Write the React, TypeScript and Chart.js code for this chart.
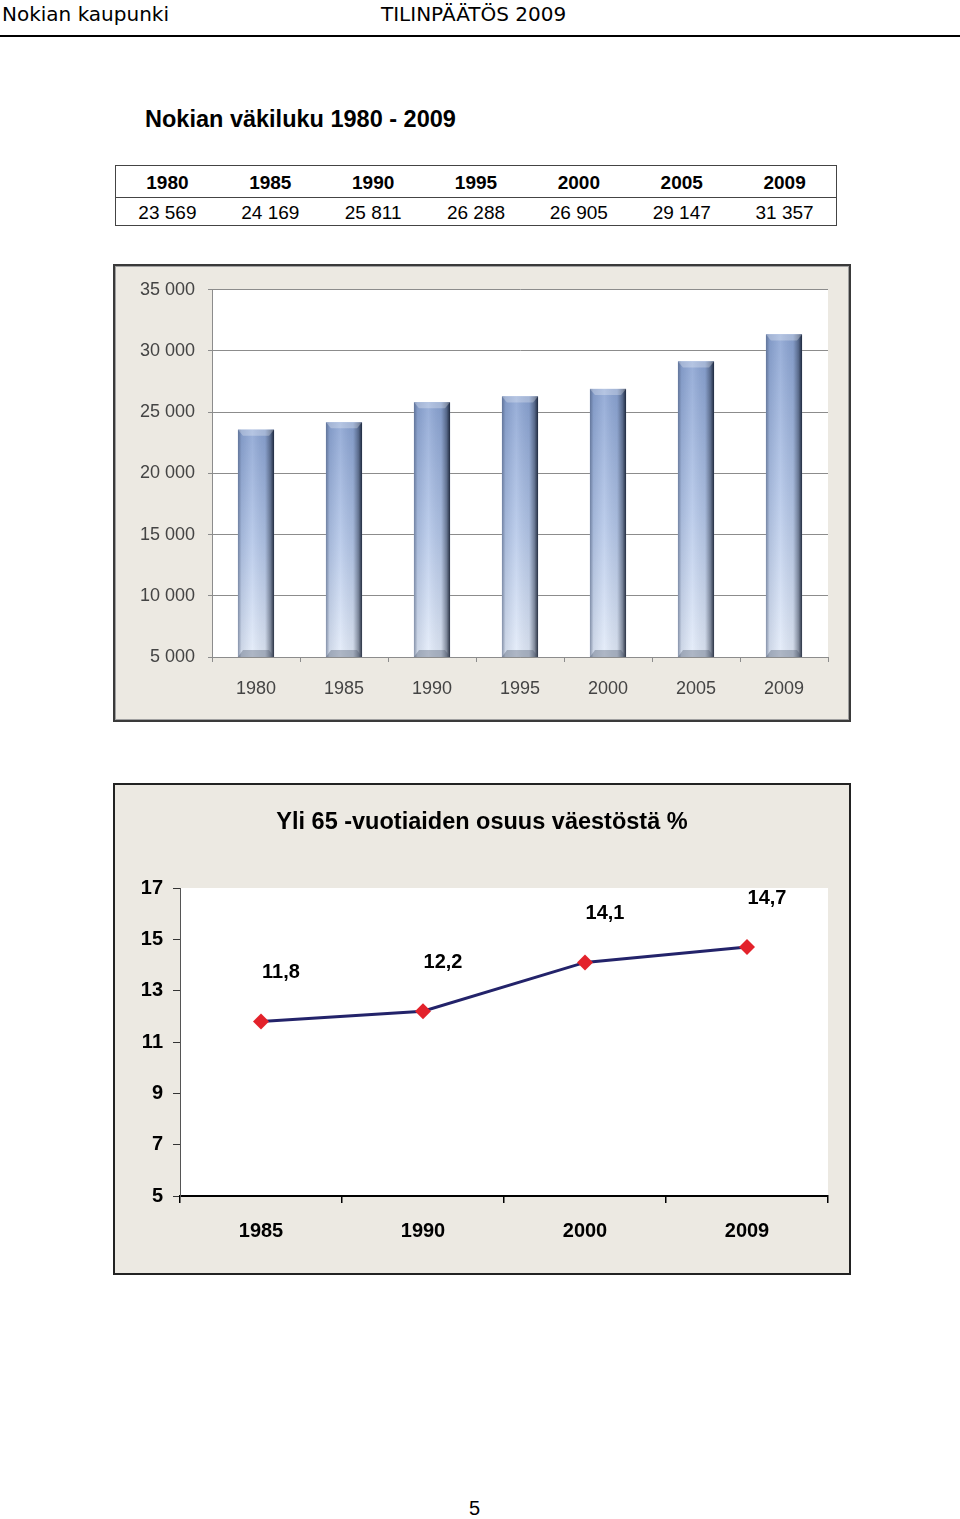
import React, { useEffect, useRef } from "react";
import { Chart, registerables } from "chart.js";

Chart.register(...registerables);

const tableYears = ["1980", "1985", "1990", "1995", "2000", "2005", "2009"];
const tableValues = ["23 569", "24 169", "25 811", "26 288", "26 905", "29 147", "31 357"];

const barYears = ["1980", "1985", "1990", "1995", "2000", "2005", "2009"];
const population = [23569, 24169, 25811, 26288, 26905, 29147, 31357];

const lineYears = ["1985", "1990", "2000", "2009"];
const elderlyShare = [11.8, 12.2, 14.1, 14.7];

const SANS = '"Liberation Sans", Arial, sans-serif';

const plotWhite = {
  id: "plotWhite",
  beforeDraw(chart: any) {
    const a = chart.chartArea;
    if (!a) return;
    const ctx = chart.ctx;
    ctx.save();
    ctx.fillStyle = "#ffffff";
    ctx.fillRect(a.left, a.top, a.right - a.left, a.bottom - a.top);
    ctx.restore();
  },
};

const barShade = {
  id: "barShade",
  afterDatasetsDraw(chart: any) {
    const ctx = chart.ctx;
    const meta = chart.getDatasetMeta(0);
    const area = chart.chartArea;
    ctx.save();
    meta.data.forEach((bar: any) => {
      const p = bar.getProps(["x", "y", "base", "width"], true);
      const x = p.x;
      const width = p.width;
      const y = Math.max(p.y, area.top);
      const base = Math.min(p.base, area.bottom);
      const l = x - width / 2;
      const r = x + width / 2;
      const h = base - y;
      const v = ctx.createLinearGradient(0, y, 0, base);
      v.addColorStop(0, "#8aa3d2");
      v.addColorStop(0.5, "#b3c6e8");
      v.addColorStop(1, "#e4ecf9");
      ctx.fillStyle = v;
      ctx.fillRect(l, y, width, h);
      const g = ctx.createLinearGradient(l, 0, r, 0);
      g.addColorStop(0, "rgba(60,75,105,0.55)");
      g.addColorStop(0.1, "rgba(60,75,105,0.12)");
      g.addColorStop(0.4, "rgba(255,255,255,0.12)");
      g.addColorStop(0.75, "rgba(30,40,60,0.08)");
      g.addColorStop(0.9, "rgba(20,30,50,0.45)");
      g.addColorStop(1, "rgba(10,18,35,0.85)");
      ctx.fillStyle = g;
      ctx.fillRect(l, y, width, h);
      // top bevel
      ctx.fillStyle = "rgba(255,255,255,0.28)";
      ctx.beginPath();
      ctx.moveTo(l, y);
      ctx.lineTo(r, y);
      ctx.lineTo(r - 5, y + 6);
      ctx.lineTo(l + 5, y + 6);
      ctx.closePath();
      ctx.fill();
      // bottom bevel
      ctx.fillStyle = "rgba(70,80,100,0.35)";
      ctx.beginPath();
      ctx.moveTo(l + 5, base - 7);
      ctx.lineTo(r - 5, base - 7);
      ctx.lineTo(r, base);
      ctx.lineTo(l, base);
      ctx.closePath();
      ctx.fill();
    });
    ctx.restore();
  },
};

const lineLabels = {
  id: "lineLabels",
  afterDatasetsDraw(chart: any) {
    const ctx = chart.ctx;
    const meta = chart.getDatasetMeta(0);
    ctx.save();
    ctx.font = `bold 20px ${SANS}`;
    ctx.fillStyle = "#000";
    ctx.textAlign = "center";
    ctx.textBaseline = "middle";
    meta.data.forEach((pt: any, i: number) => {
      const txt = elderlyShare[i].toFixed(1).replace(".", ",");
      ctx.fillText(txt, pt.x + 20, pt.y - 49);
    });
    ctx.restore();
  },
};

function fmtThousands(v: number) {
  return String(v).replace(/\B(?=(\d{3})+(?!\d))/g, " ");
}

export default function App() {
  const barRef = useRef<HTMLCanvasElement | null>(null);
  const lineRef = useRef<HTMLCanvasElement | null>(null);

  useEffect(() => {
    Chart.defaults.font.family = SANS;
    const bar = new Chart(barRef.current as HTMLCanvasElement, {
      type: "bar",
      data: {
        labels: barYears,
        datasets: [
          {
            data: population,
            backgroundColor: "#a9bde3",
            categoryPercentage: 1,
            barPercentage: 0.41,
          },
        ],
      },
      options: {
        animation: false,
        responsive: false,
        maintainAspectRatio: false,
        layout: { padding: { top: 23, right: 21, left: 0, bottom: 0 } },
        plugins: { legend: { display: false }, tooltip: { enabled: false } },
        scales: {
          x: {
            grid: { offset: true, drawOnChartArea: false, drawTicks: true, tickLength: 5, color: "#8c8c8c" },
            border: { color: "#8c8c8c" },
            ticks: { color: "#444", font: { size: 18 }, padding: 16 },
            afterFit: (s: any) => {
              s.height = 63;
            },
          },
          y: {
            min: 5000,
            max: 35000,
            ticks: {
              stepSize: 5000,
              color: "#444",
              font: { size: 18 },
              padding: 13,
              callback: (v: any) => fmtThousands(Number(v)),
            },
            grid: { color: "#8c8c8c", tickLength: 4 },
            border: { color: "#8c8c8c" },
            afterFit: (s: any) => {
              s.width = 97;
            },
          },
        },
      } as any,
      plugins: [plotWhite, barShade],
    });

    const line = new Chart(lineRef.current as HTMLCanvasElement, {
      type: "line",
      data: {
        labels: lineYears,
        datasets: [
          {
            data: elderlyShare,
            borderColor: "#23236a",
            borderWidth: 3,
            pointStyle: "rectRot",
            pointRadius: 8,
            pointBackgroundColor: "#e3222b",
            pointBorderColor: "#e3222b",
            pointBorderWidth: 0,
            tension: 0,
          },
        ],
      },
      options: {
        animation: false,
        responsive: false,
        maintainAspectRatio: false,
        layout: { padding: { top: 103, right: 21, left: 0, bottom: 0 } },
        plugins: { legend: { display: false }, tooltip: { enabled: false } },
        scales: {
          x: {
            offset: true,
            grid: { offset: true, drawOnChartArea: false, drawTicks: true, tickLength: 7, color: "#000", lineWidth: 1.5 },
            border: { color: "#000", width: 2 },
            ticks: { color: "#000", font: { size: 20, weight: "bold" }, padding: 16 },
            afterFit: (s: any) => {
              s.height = 77;
            },
          },
          y: {
            min: 5,
            max: 17,
            ticks: { stepSize: 2, color: "#000", font: { size: 20, weight: "bold" }, padding: 10 },
            grid: { drawOnChartArea: false, drawTicks: true, tickLength: 7, color: "#333" },
            border: { color: "#555", width: 1 },
            afterFit: (s: any) => {
              s.width = 65;
            },
          },
        },
      } as any,
      plugins: [plotWhite, lineLabels],
    });

    return () => {
      bar.destroy();
      line.destroy();
    };
  }, []);

  const abs = (s: React.CSSProperties): React.CSSProperties => ({ position: "absolute", ...s });

  return (
    <div style={{ position: "absolute", left: 0, top: 0, width: 960, height: 1519, background: "#fff", fontFamily: SANS }}>
      <div style={abs({ left: 2, top: 2, fontFamily: '"DejaVu Sans", Verdana, sans-serif', fontSize: 20, lineHeight: "24px", color: "#000", whiteSpace: "nowrap" })}>
        Nokian kaupunki
      </div>
      <div style={abs({ left: 381, top: 2, fontFamily: '"DejaVu Sans", Verdana, sans-serif', fontSize: 20, lineHeight: "24px", color: "#000", whiteSpace: "nowrap" })}>
        TILINPÄÄTÖS 2009
      </div>
      <div style={abs({ left: 0, top: 35, width: 960, height: 2, background: "#000" })} />

      <div style={abs({ left: 145, top: 106, fontSize: 23.5, fontWeight: "bold", lineHeight: "27px", whiteSpace: "nowrap" })}>
        Nokian väkiluku 1980 - 2009
      </div>

      <div style={abs({ left: 115, top: 165, width: 722, height: 61, boxSizing: "border-box", border: "1px solid #444" })}>
        <div style={{ display: "flex", height: 31, borderBottom: "1px solid #444" }}>
          {tableYears.map((y) => (
            <div key={y} style={{ flex: 1, textAlign: "center", fontWeight: "bold", fontSize: 19, lineHeight: "33px" }}>
              {y}
            </div>
          ))}
        </div>
        <div style={{ display: "flex", height: 28 }}>
          {tableValues.map((v, i) => (
            <div key={i} style={{ flex: 1, textAlign: "center", fontSize: 19, lineHeight: "30px" }}>
              {v}
            </div>
          ))}
        </div>
      </div>

      <div style={abs({ left: 113, top: 264, width: 738, height: 458, boxSizing: "border-box", border: "2px solid #3a3a3a", background: "#ece9e2", boxShadow: "inset 0 0 0 1px #a0a0a0" })}>
        <canvas ref={barRef} width={734} height={454} style={{ position: "absolute", left: 0, top: 0, width: 734, height: 454 }} />
      </div>

      <div style={abs({ left: 113, top: 783, width: 738, height: 492, boxSizing: "border-box", border: "2px solid #222", background: "#ece9e2" })}>
        <canvas ref={lineRef} width={734} height={488} style={{ position: "absolute", left: 0, top: 0, width: 734, height: 488 }} />
        <div style={abs({ left: 0, top: 23, width: 734, textAlign: "center", fontSize: 23.5, fontWeight: "bold", lineHeight: "27px", whiteSpace: "nowrap" })}>
          Yli 65 -vuotiaiden osuus väestöstä %
        </div>
      </div>

      <div style={abs({ left: 469, top: 1496, fontSize: 20, lineHeight: "24px" })}>5</div>
    </div>
  );
}
